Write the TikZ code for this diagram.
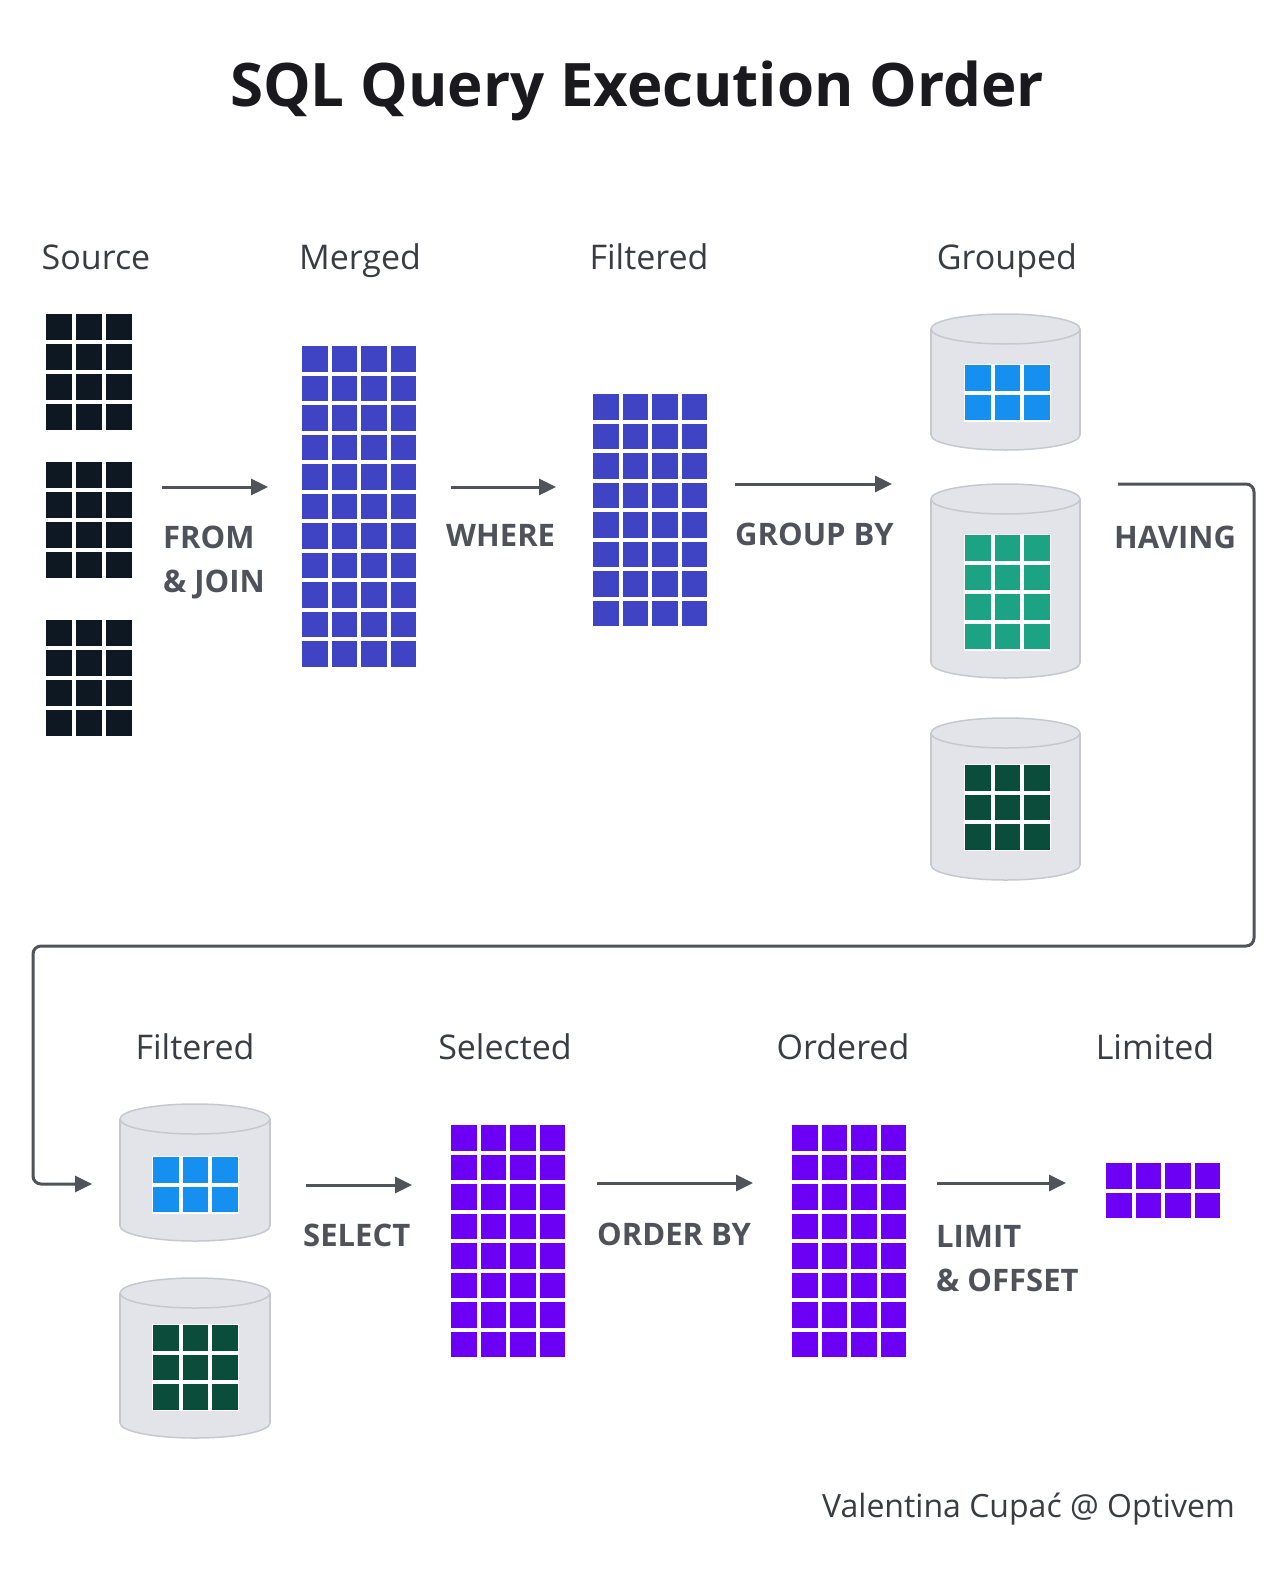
\documentclass[tikz,border=0pt]{standalone}
\usepackage{fontspec}
\setmainfont{Open Sans}
\usetikzlibrary{arrows.meta}
\definecolor{srcdark}{HTML}{0E1822}
\definecolor{indigo}{HTML}{3E44C4}
\definecolor{skyblue}{HTML}{1590F0}
\definecolor{tealgreen}{HTML}{1BA383}
\definecolor{darkgreen}{HTML}{0B4D3B}
\definecolor{violet}{HTML}{6B00F5}
\definecolor{cylfill}{HTML}{E3E4EA}
\definecolor{cylline}{HTML}{C6C8D0}
\definecolor{labelgray}{HTML}{3A3C44}
\definecolor{opgray}{HTML}{4F525A}
\definecolor{arrowgray}{HTML}{50535A}
\definecolor{titleblack}{HTML}{1A1A1E}
\tikzset{
  arr/.style={line width=3pt, draw=arrowgray, -{Triangle[length=17pt,width=16pt]}},
  collabel/.style={font=\fontsize{34}{40}\selectfont, text=labelgray, anchor=base, inner sep=0},
  oplabel/.style={font=\bfseries\fontsize{31}{37}\selectfont, text=opgray, anchor=base west, inner sep=0},
  cylbody/.style={fill=cylfill, draw=cylline, line width=1.5pt},
}
\newcommand\cellgrid[7]{% name, x, y, cols, rows, pitch, color
  \pgfmathsetmacro\gw{#4*#6-4+3}\pgfmathsetmacro\gh{#5*#6-4+3}
  \node[name=#1, anchor=north west, inner sep=0, outer sep=0, minimum width=\gw pt, minimum height=\gh pt, fill=white] at ({#2-1.5},{#3-1.5}) {};
  \foreach \ci in {1,...,#4}{\foreach \cj in {1,...,#5}{
    \fill[#7] ({#2+(\ci-1)*#6},{#3+(\cj-1)*#6}) rectangle ++({#6-4},{#6-4});
  }}
}
\newcommand\dbcyl[5]{% name, left, right, top, bottom
  \pgfmathsetmacro\cx{(#2+#3)/2}\pgfmathsetmacro\rx{(#3-#2)/2}
  \draw[cylbody] ({\cx},{#5-15}) ellipse [x radius=\rx, y radius=15];
  \fill[cylfill] ({#2},{#4+15}) rectangle ({#3},{#5-15});
  \draw[cylline, line width=1.5pt] ({#2},{#4+15}) -- ({#2},{#5-15}) ({#3},{#4+15}) -- ({#3},{#5-15});
  \draw[cylbody] ({\cx},{#4+15}) ellipse [x radius=\rx, y radius=15];
  \pgfmathsetmacro\cw{#3-#2}\pgfmathsetmacro\ch{#5-#4}
  \node[name=#1, inner sep=0, minimum width=\cw pt, minimum height=\ch pt] at ({\cx},{(#4+#5)/2}) {};
}
\begin{document}
\begin{tikzpicture}[x=1pt,y=-1pt]
\useasboundingbox (0,0) rectangle (1284,1573);
\fill[white] (0,0) rectangle (1284,1573);

% title
\node[font=\bfseries\fontsize{60}{68}\selectfont, text=titleblack, anchor=base, inner sep=0] (title) at (637,107) {SQL Query Execution Order};

% column labels
\node[collabel] (lsource) at (96,269) {Source};
\node[collabel] (lmerged) at (360,269) {Merged};
\node[collabel] (lfilt1) at (649,269) {Filtered};
\node[collabel] (lgroup) at (1007,269) {Grouped};
\node[collabel] (lfilt2) at (195,1059) {Filtered};
\node[collabel] (lsel) at (505,1059) {Selected};
\node[collabel] (lord) at (843,1059) {Ordered};
\node[collabel] (llim) at (1155,1059) {Limited};

% source tables
\cellgrid{src1}{46}{314}{3}{4}{30}{srcdark}
\cellgrid{src2}{46}{462}{3}{4}{30}{srcdark}
\cellgrid{src3}{46}{620}{3}{4}{30}{srcdark}

% merged & filtered
\cellgrid{merged}{302}{346}{4}{11}{29.5}{indigo}
\cellgrid{filt}{593}{394}{4}{8}{29.5}{indigo}

% grouped cylinders
\dbcyl{cylA}{931}{1080}{314}{450}
\cellgrid{grpA}{965}{365}{3}{2}{29.5}{skyblue}
\dbcyl{cylB}{931}{1080}{484}{678}
\cellgrid{grpB}{965}{535}{3}{4}{29.5}{tealgreen}
\dbcyl{cylC}{931}{1080}{718}{880}
\cellgrid{grpC}{965}{765}{3}{3}{29.5}{darkgreen}

% filtered groups
\dbcyl{cylD}{120}{270}{1104}{1241}
\cellgrid{havA}{153}{1157}{3}{2}{29.5}{skyblue}
\dbcyl{cylE}{120}{270}{1278}{1438}
\cellgrid{havB}{153}{1325}{3}{3}{29.5}{darkgreen}

% selected, ordered, limited
\cellgrid{sel}{451}{1125}{4}{8}{29.5}{violet}
\cellgrid{ord}{792}{1125}{4}{8}{29.5}{violet}
\cellgrid{lim}{1106}{1163}{4}{2}{29.5}{violet}

% arrows
\coordinate (a1s) at (162,487); \coordinate (a1e) at (268,487);
\coordinate (a2s) at (451,487); \coordinate (a2e) at (556,487);
\coordinate (a3s) at (735,484); \coordinate (a3e) at (892,484);
\coordinate (hs) at (1118,484); \coordinate (hr) at (1254,946);
\coordinate (hl) at (33,1184); \coordinate (he) at (92,1184);
\coordinate (a5s) at (306,1185); \coordinate (a5e) at (412,1185);
\coordinate (a6s) at (597,1183); \coordinate (a6e) at (753,1183);
\coordinate (a7s) at (937,1183); \coordinate (a7e) at (1066,1183);
\draw[arr] (a1s) -- (a1e);
\draw[arr] (a2s) -- (a2e);
\draw[arr] (a3s) -- (a3e);
\draw[arr, rounded corners=8pt] (hs) -| (hr) -| (hl) -- (he);
\draw[arr] (a5s) -- (a5e);
\draw[arr] (a6s) -- (a6e);
\draw[arr] (a7s) -- (a7e);

% operation labels
\node[oplabel] (opfrom) at (163,548) {FROM};
\node[oplabel] (opjoin) at (163,592) {\& JOIN};
\node[oplabel] (opwhere) at (446,546) {WHERE};
\node[oplabel] (opgroup) at (735,545) {GROUP BY};
\node[oplabel] (ophaving) at (1114,548) {HAVING};
\node[oplabel] (opselect) at (303,1246) {SELECT};
\node[oplabel] (oporder) at (597,1245) {ORDER BY};
\node[oplabel] (oplimit) at (936,1247) {LIMIT};
\node[oplabel] (opoffset) at (936,1291) {\& OFFSET};

% footer
\node[font=\fontsize{32}{38}\selectfont, text=labelgray, anchor=base east, inner sep=0] (footer) at (1235,1517) {Valentina Cupać @ Optivem};
\end{tikzpicture}
\end{document}
